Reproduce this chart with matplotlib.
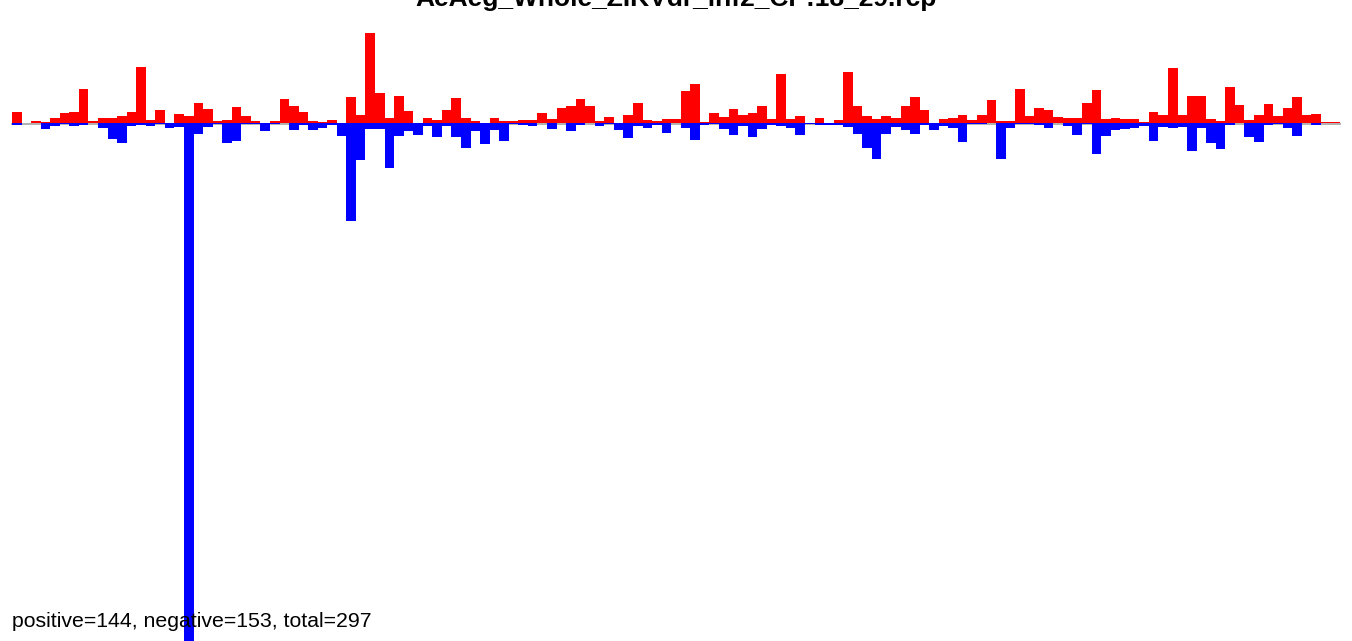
import numpy as np
import matplotlib
matplotlib.use("Agg")
import matplotlib.pyplot as plt

plt.rcParams['font.family'] = ['Liberation Sans', 'DejaVu Sans']

title = "AeAeg_Whole_ZIKVdr_inf2_CP:18_29.rcp"
summary = "positive=144, negative=153, total=297"

# bar heights per bin (arbitrary units)
pos = [11, 0, 2, 1, 5, 10, 11, 34, 2, 5, 5, 7, 11, 56, 3, 13, 0, 9, 7, 20,
       14, 2, 3, 16, 7, 2, 0, 2, 24, 17, 11, 2, 1, 3, 0, 26, 8, 90, 30, 5,
       27, 12, 0, 5, 3, 13, 25, 5, 2, 0, 5, 2, 2, 3, 3, 10, 4, 15, 17, 24,
       17, 2, 6, 0, 8, 20, 3, 2, 4, 4, 32, 39, 1, 10, 6, 14, 8, 10, 17, 4,
       49, 4, 7, 0, 5, 0, 3, 51, 17, 7, 4, 7, 5, 17, 26, 13, 0, 4, 5, 8,
       3, 8, 23, 2, 2, 34, 7, 15, 13, 6, 5, 5, 20, 33, 4, 5, 4, 4, 1, 11,
       8, 55, 8, 27, 27, 4, 2, 36, 18, 3, 8, 19, 7, 15, 26, 8, 9, 1, 1]
neg = [2, 0, 0, 6, 3, 1, 3, 2, 0, 5, 16, 20, 3, 2, 3, 1, 5, 4, 530, 11,
       4, 1, 20, 18, 1, 1, 8, 1, 0, 7, 2, 7, 5, 2, 13, 98, 37, 6, 6, 45,
       13, 8, 12, 3, 14, 3, 14, 25, 8, 21, 7, 18, 1, 2, 3, 0, 6, 0, 8, 2,
       0, 3, 1, 7, 15, 3, 5, 2, 10, 0, 5, 17, 2, 1, 6, 12, 3, 14, 6, 2,
       3, 5, 12, 1, 2, 2, 2, 4, 11, 25, 36, 11, 4, 7, 11, 2, 7, 3, 5, 19,
       1, 1, 0, 36, 5, 1, 1, 2, 5, 0, 3, 12, 1, 31, 13, 7, 6, 5, 3, 18,
       4, 5, 4, 28, 5, 20, 26, 2, 0, 14, 19, 2, 1, 5, 13, 0, 2, 0, 0]

x = np.arange(len(pos))

fig = plt.figure(figsize=(13.52, 6.41), dpi=100)
ax = fig.add_axes([0, 0, 1, 1])

ax.plot([0, len(pos)], [-0.8, -0.8], color='#aaaaaa', lw=1.3, zorder=1)
ax.bar(x, pos, width=1, align='edge', color='red', linewidth=0, zorder=2)
ax.bar(x, [-v for v in neg], width=1, align='edge', color='blue', linewidth=0, zorder=3)

# pixel-like scaling: 9.554 px per bin, baseline 122.7 px from top
ax.set_xlim(-12 / 9.554, (1352 - 12) / 9.554)
ax.set_ylim(-(641 - 122.7), 122.7)
ax.axis('off')

fig.text(0.5, 1 - 6 / 641, title, ha='center', va='baseline',
         fontsize=19, fontweight='bold', zorder=5)
fig.text(12 / 1352, 1 - 627 / 641, summary, ha='left', va='baseline',
         fontsize=15.3, zorder=5)

fig.savefig('out.png', dpi=100)
